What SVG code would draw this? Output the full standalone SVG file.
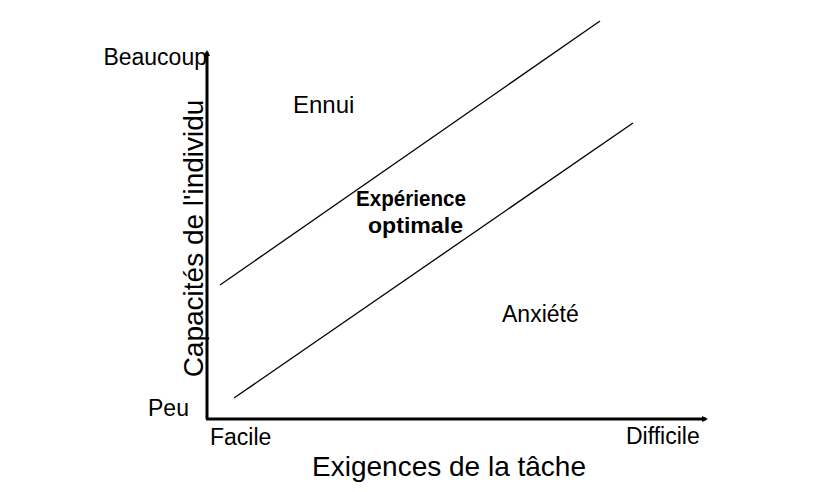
<svg xmlns="http://www.w3.org/2000/svg" width="832" height="492" viewBox="0 0 832 492">
<style>
text{font-family:"Liberation Sans",Arial,sans-serif;fill:#000}
.s{font-size:23px}
.m{font-size:24px}
.l{font-size:28px}
.b{font-size:22.5px;font-weight:bold}
.ax{stroke:#000;stroke-width:3;fill:none}
.ln{stroke:#000;stroke-width:1.3;fill:none}
</style>
<defs>
<marker id="ah" markerWidth="6" markerHeight="6" refX="4" refY="3" orient="auto" markerUnits="userSpaceOnUse">
<path d="M0,0 L6,3 L0,6 Z" fill="#000"/>
</marker>
</defs>
<rect width="832" height="492" fill="#fff"/>
<g id="connectors">
<path class="ax" d="M207,419 L207,52" marker-end="url(#ah)"/>
<path class="ax" d="M206,419 L706,419" marker-end="url(#ah)"/>
<path class="ln" d="M220,285 L600,21"/>
<path class="ln" d="M234,398 L633,123"/>
</g>
<g id="labels">
<text class="s" x="207" y="65" text-anchor="end">Beaucoup</text>
<text class="s" x="148" y="416">Peu</text>
<text class="s" x="210" y="445">Facile</text>
<text class="s" x="626" y="444">Difficile</text>
<text class="l" x="449" y="476" text-anchor="middle">Exigences de la tâche</text>
<text class="l" transform="translate(203,238.5) rotate(-90)" text-anchor="middle">Capacités de l'individu</text>
</g>
<g id="ennui"><text class="m" x="293" y="113">Ennui</text></g>
<g id="optimal">
<text class="b" x="356" y="206" textLength="110" lengthAdjust="spacingAndGlyphs">Expérience</text>
<text class="b" x="368" y="233" textLength="95" lengthAdjust="spacingAndGlyphs">optimale</text>
</g>
<g id="anxiete"><text class="s" x="502" y="322">Anxiété</text></g>
</svg>
